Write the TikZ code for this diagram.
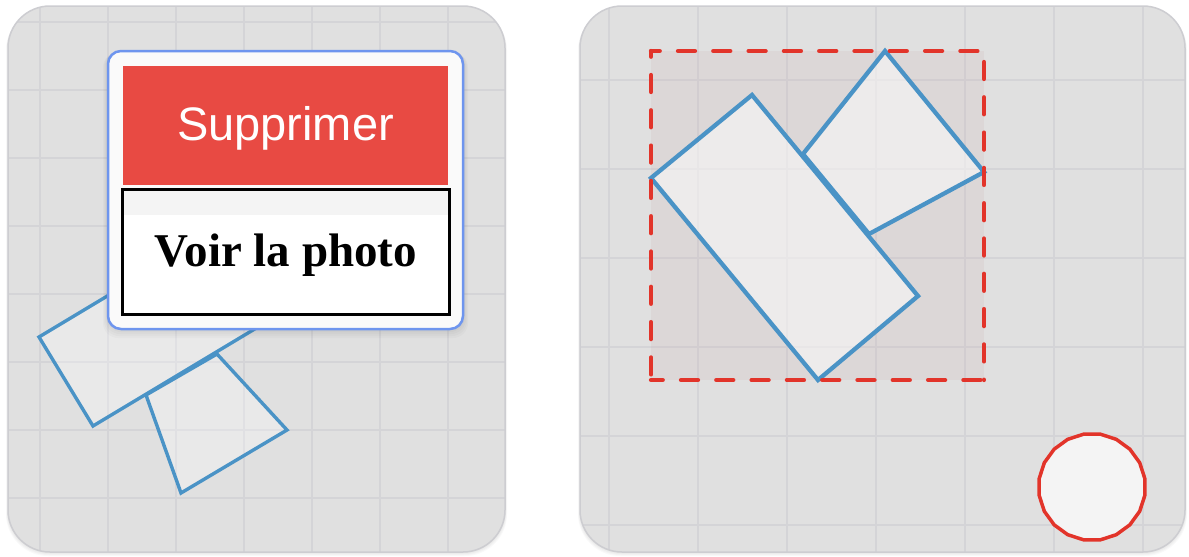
\documentclass[tikz,border=0pt]{standalone}
\usepackage{fontspec}
\newfontfamily\btnsans{Liberation Sans}
\newfontfamily\btnserif{Liberation Serif}
\usetikzlibrary{shapes.geometric,calc}
\definecolor{panelbg}{HTML}{E0E0E0}
\definecolor{gridc}{HTML}{D4D4D7}
\definecolor{panelborder}{HTML}{CDCDD1}
\definecolor{shapeblue}{HTML}{4A93C6}
\definecolor{selred}{HTML}{E2342A}
\definecolor{selfill}{HTML}{C8AAAA}
\definecolor{popupblue}{HTML}{6E95EE}
\definecolor{popupfill}{HTML}{FAFAFA}
\definecolor{btnred}{HTML}{E84A43}
\definecolor{bandgrey}{HTML}{F4F4F4}
\definecolor{dotfill}{HTML}{F4F4F4}
\tikzset{
  panel/.style={rounded corners=42pt},
  gridline/.style={draw=gridc, line width=2.8pt},
  photoL/.style={draw=shapeblue, line width=3.4pt, fill=white, fill opacity=0.3},
  photoR/.style={draw=shapeblue, line width=4.3pt, fill=white, fill opacity=0.5},
  seldash/.style={draw=selred, line width=4.3pt, line cap=round, dash pattern=on 17pt off 18.3pt},
  popupbox/.style={draw=popupblue, line width=2.5pt, fill=popupfill, rounded corners=13pt,
    minimum width=355pt, minimum height=278pt, inner sep=0pt, outer sep=0pt},
  delbtn/.style={fill=btnred, minimum width=325pt, minimum height=119pt, inner sep=0pt, outer sep=0pt},
  voirbox/.style={fill=white, minimum width=327pt, minimum height=125pt, inner sep=0pt, outer sep=0pt},
  deltext/.style={text=white, font=\btnsans\fontsize{47}{50}\selectfont, anchor=base, inner sep=0pt},
  voirtext/.style={text=black, font=\btnserif\bfseries\fontsize{47}{50}\selectfont, anchor=base, inner sep=0pt},
  dotnode/.style={regular polygon, regular polygon sides=20, minimum size=107pt, inner sep=0pt,
    draw=selred, line width=3.5pt, fill=dotfill},
}
\begin{document}
\begin{tikzpicture}[x=1pt,y=-1pt]
\useasboundingbox (0,0) rectangle (1189,557);
\fill[white] (0,0) rectangle (1189,557);

% panel shadows
\foreach \d in {1,2,3,4}{
  \fill[black,opacity=0.025,panel] (8-\d*0.5,6+\d*0.5) rectangle (505+\d*0.5,552+\d);
  \fill[black,opacity=0.025,panel] (580-\d*0.5,6+\d*0.5) rectangle (1185+\d*0.5,552+\d);
}

% ---------- left panel ----------
\begin{scope}
  \clip[panel] (8,6) rectangle (505,552);
  \fill[panelbg] (8,6) rectangle (505,552);
  \foreach \x in {40,108,...,448} \draw[gridline] (\x,6) -- (\x,552);
  \foreach \y in {22,90,...,498} \draw[gridline] (8,\y) -- (505,\y);
\end{scope}
\draw[panelborder, line width=1.5pt, panel] (8,6) rectangle (505,552);

\draw[photoL] (39,337) -- (93,426) -- (263,324) -- (209,235) -- cycle;
\draw[photoL] (146,395) -- (217,354) -- (287,430) -- (181,493) -- cycle;

% popup shadow
\foreach \d in {2,4,6,8}
  \fill[black,opacity=0.018,rounded corners=15pt] (107-\d*0.5,50+\d*0.3) rectangle (464+\d*0.5,330+\d);

\node[popupbox] (popup) at (285.5,190) {};
\node[delbtn] (delete) at (285.5,125.5) {};
\node[deltext] (deletetxt) at (285.5,140) {Supprimer};
\node[voirbox] (voir) at (286,252) {};
\fill[bandgrey] ($(voir.north west)+(1.5,1.5)$) rectangle ($(voir.north east)+(-1.5,25)$);
\draw[black, line width=3pt] (voir.north west) rectangle (voir.south east);
\node[voirtext] (voirtxt) at (286,266) {Voir la photo};

% ---------- right panel ----------
\begin{scope}
  \clip[panel] (580,6) rectangle (1185,552);
  \fill[panelbg] (580,6) rectangle (1185,552);
  \foreach \x in {609,698,...,1143} \draw[gridline] (\x,6) -- (\x,552);
  \foreach \y in {80,169,...,525} \draw[gridline] (580,\y) -- (1185,\y);
\end{scope}
\draw[panelborder, line width=1.5pt, panel] (580,6) rectangle (1185,552);

\coordinate (sTL) at (651,51);
\coordinate (sTR) at (984,51);
\coordinate (sBR) at (984,380);
\coordinate (sBL) at (651,380);
\fill[selfill, opacity=0.15] (sTL) rectangle (sBR);

\draw[photoR] (651,178) -- (752,95) -- (918,296) -- (818,380) -- cycle;
\draw[photoR] (803,154) -- (885,51) -- (984,172) -- (869,234) -- cycle;

\draw[seldash, dash phase=8.3pt] (sTL) -- (sTR);
\draw[seldash, dash phase=24.3pt] (sTR) -- (sBR);
\draw[seldash, dash phase=11.3pt] (sTL) -- (sBL);
\draw[seldash, dash phase=5.3pt] (sBL) -- (sBR);

\node[dotnode] (dot) at (1092,487) {};
\end{tikzpicture}
\end{document}
